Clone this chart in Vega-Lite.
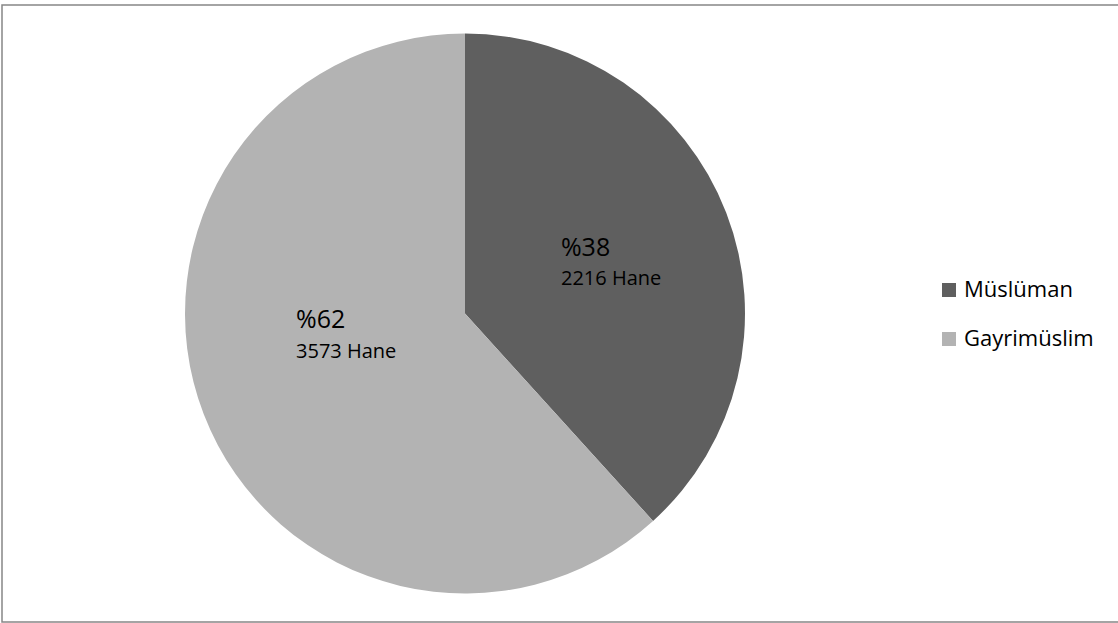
{
  "$schema": "https://vega.github.io/schema/vega-lite/v6.json",
  "width": 1121,
  "height": 623,
  "autosize": {"type": "fit", "contains": "padding"},
  "padding": {"left": 2, "top": 5, "right": 0, "bottom": 1},
  "background": "white",
  "view": {"stroke": "#868686", "strokeWidth": 1.5, "fill": "white"},
  "config": {
    "view": {"stroke": "#868686", "strokeWidth": 1.5},
    "style": {"cell": {"stroke": "#868686", "strokeWidth": 1.5}},
    "font": "Open Sans"
  },
  "data": {
    "values": [
      {"din": "Müslüman", "hane": 2216, "oran": "%38", "etiket": "2216 Hane"},
      {"din": "Gayrimüslim", "hane": 3573, "oran": "%62", "etiket": "3573 Hane"}
    ]
  },
  "encoding": {
    "theta": {"field": "hane", "type": "quantitative", "stack": true},
    "order": {"field": "hane", "type": "quantitative", "sort": "ascending"}
  },
  "layer": [
    {
      "mark": {"type": "arc", "outerRadius": 280, "xOffset": -96.5},
      "encoding": {
        "color": {
          "field": "din",
          "type": "nominal",
          "scale": {"domain": ["Müslüman", "Gayrimüslim"], "range": ["#5f5f5f", "#b3b3b3"]},
          "legend": {
            "title": null,
            "orient": "none",
            "legendX": 936,
            "legendY": 274,
            "symbolType": "square",
            "symbolSize": 196,
            "symbolStrokeWidth": 0,
            "labelFontSize": 22,
            "labelFont": "Open Sans",
            "labelColor": "#000000",
            "labelOffset": 4,
            "rowPadding": 27
          }
        }
      }
    },
    {
      "mark": {"type": "text", "radius": 150, "xOffset": -96.5, "dx": -44, "dy": -12, "align": "left", "fontSize": 25, "color": "#000000"},
      "encoding": {
        "text": {"condition": {"test": "datum.din === 'Müslüman'", "field": "oran"}, "value": ""}
      }
    },
    {
      "mark": {"type": "text", "radius": 150, "xOffset": -96.5, "dx": -44, "dy": 19, "align": "left", "fontSize": 20, "color": "#000000"},
      "encoding": {
        "text": {"condition": {"test": "datum.din === 'Müslüman'", "field": "etiket"}, "value": ""}
      }
    },
    {
      "mark": {"type": "text", "radius": 120, "xOffset": -96.5, "dx": -57, "dy": -37, "align": "left", "fontSize": 25, "color": "#000000"},
      "encoding": {
        "text": {"condition": {"test": "datum.din === 'Gayrimüslim'", "field": "oran"}, "value": ""}
      }
    },
    {
      "mark": {"type": "text", "radius": 120, "xOffset": -96.5, "dx": -57, "dy": -5, "align": "left", "fontSize": 20, "color": "#000000"},
      "encoding": {
        "text": {"condition": {"test": "datum.din === 'Gayrimüslim'", "field": "etiket"}, "value": ""}
      }
    }
  ]
}
